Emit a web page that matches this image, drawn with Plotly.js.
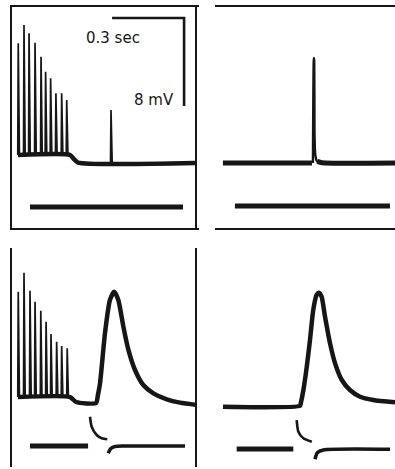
<!DOCTYPE html>
<html>
<head>
<meta charset="utf-8">
<script src="https://cdn.plot.ly/plotly-3.0.1.min.js"></script>
<style>
  html, body { margin: 0; padding: 0; background: #ffffff; }
  #chart { width: 395px; height: 469px; }
</style>
</head>
<body>
<div id="chart"></div>
<script>
// ---- Data (time in s, potential in mV, measured from each panel's lower-left corner) ----
// Panel A (top-left): train of spikes then single spike
const p1SpikeT = [0.026, 0.050, 0.071, 0.096, 0.121, 0.140, 0.161, 0.183, 0.207, 0.228, 0.4125];
const p1SpikeV = [16.79, 18.45, 17.70, 16.85, 15.57, 14.21, 13.61, 12.25, 12.25, 11.64, 10.73];
const p1SpikeBase = [6.64, 6.64, 6.64, 6.64, 6.64, 6.64, 6.64, 6.64, 6.64, 6.64, 5.91];
const p1BaseT = [0.025, 0.242, 0.258, 0.275, 0.7625];
const p1BaseV = [6.64, 6.64, 6.27, 5.95, 5.91];
const p1StimT = [0.075, 0.7125];
const p1StimV = [1.91, 1.91];
const scaleT = [0.417, 0.717, 0.717];
const scaleV = [19.09, 19.09, 11.09];
const scaleLabels = ["0.3 sec", "8 mV"];

// Panel B (top-right): single spike
const p2BaseLeftT = [0.033, 0.404];
const p2BaseLeftV = [5.91, 5.91];
const p2SpikeT = [0.408, 0.4115, 0.4135, 0.4145, 0.416, 0.419, 0.424, 0.432];
const p2SpikeV = [5.91, 15.45, 15.2, 9.0, 7.3, 6.5, 6.1, 5.95];
const p2BaseRightT = [0.426, 0.446, 0.75];
const p2BaseRightV = [6.05, 5.93, 5.91];
const p2StimT = [0.083, 0.729];
const p2StimV = [2.0, 2.0];

// Panel C (bottom-left): spike train then slow potential
const p3SpikeT = [0.026, 0.050, 0.075, 0.096, 0.120, 0.142, 0.1625, 0.186, 0.207, 0.230];
const p3SpikeV = [15.94, 17.66, 16.03, 15.03, 14.21, 13.21, 12.09, 11.39, 11.00, 10.79];
const p3SpikeBase = 6.36;
const p3WaveT = [0.025, 0.242, 0.267, 0.350, 0.358, 0.367, 0.3875, 0.408, 0.426, 0.443, 0.464, 0.485, 0.5125, 0.547, 0.589, 0.645, 0.700, 0.771];
const p3WaveV = [6.36, 6.36, 5.91, 5.82, 6.55, 7.64, 12.18, 15.18, 15.94, 15.18, 12.76, 10.64, 8.82, 7.45, 6.70, 6.15, 5.85, 5.64];
const p3StimLeftT = [0.075, 0.317];
const p3StimLeftV = [1.91, 1.91];
const p3StimArcT = [0.325, 0.332, 0.353, 0.374, 0.397];
const p3StimArcV = [4.57, 3.66, 2.91, 2.61, 2.52];
const p3StimRightT = [0.401, 0.410, 0.429, 0.4625, 0.721];
const p3StimRightV = [1.25, 1.64, 1.86, 1.91, 1.91];

// Panel D (bottom-right): slow potential alone
const p4WaveT = [0.025, 0.346, 0.349, 0.360, 0.374, 0.3875, 0.401, 0.415, 0.425, 0.436, 0.450, 0.471, 0.492, 0.520, 0.554, 0.596, 0.651, 0.742];
const p4WaveV = [5.48, 5.57, 5.79, 7.00, 9.12, 11.55, 14.27, 15.64, 15.85, 15.48, 13.67, 11.24, 9.42, 7.91, 7.00, 6.39, 6.09, 5.88];
const p4StimLeftT = [0.082, 0.318];
const p4StimLeftV = [1.64, 1.64];
const p4StimArcT = [0.332, 0.339, 0.360, 0.395];
const p4StimArcV = [4.27, 3.21, 2.61, 2.30];
const p4StimRightT = [0.408, 0.418, 0.443, 0.721];
const p4StimRightV = [0.70, 1.30, 1.55, 1.61];

// ---- Build ----
const INK = "#161616";
function spikeLines(ts, vs, bases) {
  const x = [], y = [];
  ts.forEach((t, i) => {
    const b = Array.isArray(bases) ? bases[i] : bases;
    x.push(t - 0.002, t, t + 0.005, null);
    y.push(b, vs[i], b, null);
  });
  return { x, y };
}
function line(x, y, ax, w, shape, smooth) {
  return { x, y, xaxis: "x" + ax, yaxis: "y" + ax, type: "scatter", mode: "lines",
    line: { color: INK, width: w, shape: shape || "spline", smoothing: smooth || 0.6 },
    hoverinfo: "skip", connectgaps: false, showlegend: false };
}
const s1 = spikeLines(p1SpikeT, p1SpikeV, p1SpikeBase);
const s3 = spikeLines(p3SpikeT, p3SpikeV, p3SpikeBase);

const traces = [
  line(scaleT, scaleV, "", 2.6, "linear"),
  line(p1BaseT, p1BaseV, "", 4.5),
  line(s1.x, s1.y, "", 1.7, "linear"),
  line(p1StimT, p1StimV, "", 5, "linear"),

  line(p2BaseLeftT, p2BaseLeftV, "2", 5, "linear"),
  line(p2SpikeT, p2SpikeV, "2", 2.4, "spline", 0.3),
  line(p2BaseRightT, p2BaseRightV, "2", 5),
  line(p2StimT, p2StimV, "2", 5, "linear"),

  line(p3WaveT, p3WaveV, "3", 4.5),
  line(s3.x, s3.y, "3", 1.7, "linear"),
  line(p3StimLeftT, p3StimLeftV, "3", 5, "linear"),
  line(p3StimArcT, p3StimArcV, "3", 2.6),
  line(p3StimRightT, p3StimRightV, "3", 3.5),

  line(p4WaveT, p4WaveV, "4", 4.5),
  line(p4StimLeftT, p4StimLeftV, "4", 5, "linear"),
  line(p4StimArcT, p4StimArcV, "4", 2.6),
  line(p4StimRightT, p4StimRightV, "4", 3.5),
];

const W = 395, H = 469;
function ax(domain, range, mirror) {
  return { domain, range, showgrid: false, zeroline: false, showticklabels: false, ticks: "",
    showline: true, linecolor: INK, linewidth: 2, mirror: mirror, fixedrange: true };
}
const layout = {
  width: W, height: H,
  margin: { l: 0, r: 0, t: 0, b: 0 },
  paper_bgcolor: "#ffffff", plot_bgcolor: "#ffffff",
  showlegend: false, hovermode: false,
  xaxis:  ax([12/W, 195/W], [0, 183/240], true),
  yaxis:  ax([1-228/H, 1-7/H], [0, 221/11], true),
  xaxis2: ax([215/W, 1], [0, 180/240], true),
  yaxis2: ax([1-228/H, 1-7/H], [0, 221/11], false),
  xaxis3: ax([12/W, 197/W], [0, 185/240], true),
  yaxis3: ax([1-467/H, 1-248/H], [0, 219/11], true),
  xaxis4: ax([217/W, 1], [0, 178/240], true),
  yaxis4: ax([1-467/H, 1-249/H], [0, 218/11], false),
  annotations: [
    { x: 0.421, y: 17.27, xref: "x", yref: "y", text: scaleLabels[0], showarrow: false,
      font: { family: "DejaVu Sans, sans-serif", size: 15, color: INK } },
    { x: 0.592, y: 11.64, xref: "x", yref: "y", text: scaleLabels[1], showarrow: false,
      font: { family: "DejaVu Sans, sans-serif", size: 15, color: INK } }
  ]
};
Plotly.newPlot("chart", traces, layout, { staticPlot: true, displayModeBar: false });
</script>
</body>
</html>
